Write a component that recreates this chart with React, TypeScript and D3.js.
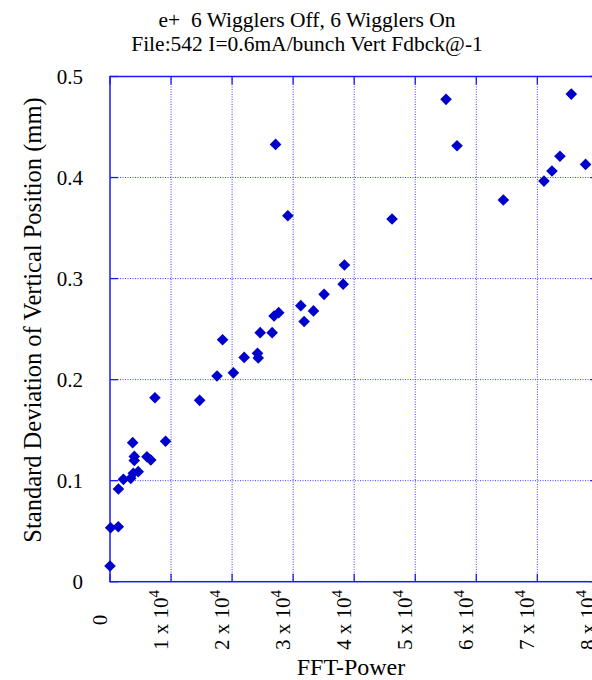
import React from "react";
import * as d3 from "d3";

// FFT power of the vertical motion vs. standard deviation of vertical position
const fftPower: number[] = [
  0, 100, 1360, 1380, 2200, 3400, 3820, 4620, 3710, 3980, 3980, 6050, 6680,
  7360, 9100, 14680, 17530, 18440, 20210, 21980, 24160, 24280, 24600, 26560,
  26870, 27630, 27120, 29130, 31250, 31800, 33330, 35070, 38190, 38400, 46200,
  55040, 56840, 64430, 71080, 72390, 73700, 75560, 77900,
];
const stdDev: number[] = [
  0.0155, 0.0534, 0.0544, 0.0917, 0.1013, 0.1023, 0.1073, 0.1089, 0.1376,
  0.124, 0.12, 0.1237, 0.1204, 0.182, 0.139, 0.1795, 0.2036, 0.2395, 0.2067,
  0.222, 0.226, 0.2214, 0.2465, 0.2465, 0.263, 0.2663, 0.4328, 0.3622, 0.2732,
  0.2575, 0.268, 0.2844, 0.2945, 0.3135, 0.359, 0.4774, 0.4315, 0.3777, 0.3965,
  0.4064, 0.421, 0.4826, 0.413,
];
const xTickMantissas: number[] = [0, 1, 2, 3, 4, 5, 6, 7, 8];
const yTicks: number[] = [0, 0.1, 0.2, 0.3, 0.4, 0.5];
const titleLines: string[] = [
  "e+  6 Wigglers Off, 6 Wigglers On",
  "File:542 I=0.6mA/bunch Vert Fdbck@-1",
];

const W = 592;
const H = 680;
const left = 110;
const top = 76.5;
const bottom = 581.7;
const right = 598.4;

const AXIS = "#1a1aff";
const GRID = "#3b3bff";
const MARK = "#0000cc";
const FONT = "Liberation Serif, Times New Roman, Times, serif";
const textStyle: React.CSSProperties = { fontFamily: FONT, whiteSpace: "pre" };

export default function App() {
  const x = d3.scaleLinear().domain([0, 80000]).range([left, right]);
  const y = d3.scaleLinear().domain([0, 0.5]).range([bottom, top]);
  const r = 5.8;
  const diamond = `M0,${-r}L${r},0L0,${r}L${-r},0Z`;
  const tickLen = 8;

  return (
    <svg
      width={W}
      height={H}
      style={{ position: "absolute", left: 0, top: 0, background: "#fff" }}
    >
      {/* title */}
      {titleLines.map((t, i) => (
        <text
          key={t}
          x={307}
          y={27 + i * 24}
          textAnchor="middle"
          fontSize={21.5}
          fill="#000"
          style={textStyle}
          xmlSpace="preserve"
        >
          {t}
        </text>
      ))}

      {/* grid */}
      {xTickMantissas.slice(1).map((m) => (
        <line
          key={`gx${m}`}
          x1={x(m * 1e4)}
          x2={x(m * 1e4)}
          y1={top}
          y2={bottom}
          stroke={GRID}
          strokeWidth={1}
          strokeDasharray="1,1.5"
        />
      ))}
      {yTicks.slice(1, -1).map((v) => (
        <line
          key={`gy${v}`}
          x1={left}
          x2={right}
          y1={y(v)}
          y2={y(v)}
          stroke={GRID}
          strokeWidth={1}
          strokeDasharray="1,1.5"
        />
      ))}

      {/* ticks */}
      {xTickMantissas.map((m) => (
        <g key={`tx${m}`} stroke={AXIS} strokeWidth={1.3}>
          <line x1={x(m * 1e4)} x2={x(m * 1e4)} y1={bottom} y2={bottom - tickLen} />
          <line x1={x(m * 1e4)} x2={x(m * 1e4)} y1={top} y2={top + tickLen} />
        </g>
      ))}
      {yTicks.map((v) => (
        <g key={`ty${v}`} stroke={AXIS} strokeWidth={1.3}>
          <line x1={left} x2={left + tickLen} y1={y(v)} y2={y(v)} />
          <line x1={right} x2={right - tickLen} y1={y(v)} y2={y(v)} />
        </g>
      ))}

      {/* frame */}
      <rect
        x={left}
        y={top}
        width={right - left}
        height={bottom - top}
        fill="none"
        stroke={AXIS}
        strokeWidth={1.5}
      />

      {/* y tick labels */}
      {yTicks.map((v) => (
        <text
          key={`ly${v}`}
          x={left - 27}
          y={y(v)}
          dy="0.35em"
          textAnchor="end"
          fontSize={21}
          fill="#000"
          style={textStyle}
        >
          {v === 0 ? "0" : d3.format(".1f")(v)}
        </text>
      ))}

      {/* x tick labels, rotated */}
      {xTickMantissas.map((m) => (
        <text
          key={`lx${m}`}
          transform={`translate(${x(m * 1e4) - 3},620) rotate(-90)`}
          textAnchor="middle"
          fontSize={21}
          fill="#000"
          style={textStyle}
        >
          {m === 0 ? (
            "0"
          ) : (
            <>
              {`${m} x 10`}
              <tspan dy={-9} fontSize={15}>
                4
              </tspan>
            </>
          )}
        </text>
      ))}

      {/* axis titles */}
      <text x={351} y={675} textAnchor="middle" fontSize={24} fill="#000" style={textStyle}>
        FFT-Power
      </text>
      <text
        transform={`translate(41,320) rotate(-90)`}
        textAnchor="middle"
        fontSize={24.5}
        fill="#000"
        style={textStyle}
      >
        Standard Deviation of Vertical Position (mm)
      </text>

      {/* data points */}
      {fftPower.map((p, i) => (
        <path
          key={i}
          d={diamond}
          transform={`translate(${x(p)},${y(stdDev[i])})`}
          fill={MARK}
        />
      ))}
    </svg>
  );
}
